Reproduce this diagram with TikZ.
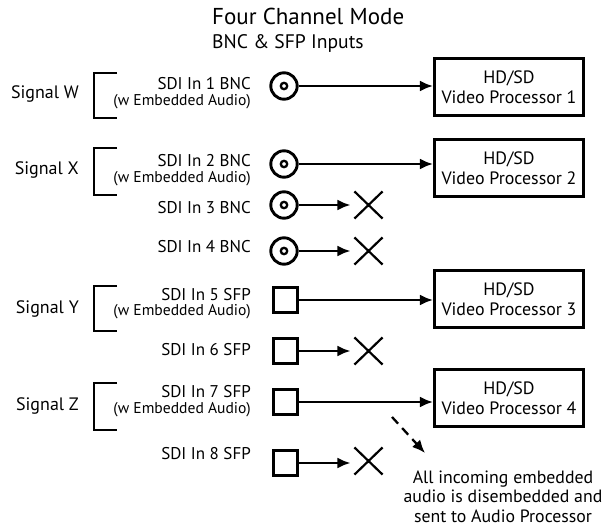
\documentclass[tikz,border=0pt]{standalone}
\usepackage{fontspec}
\setmainfont{PT Sans}
\usetikzlibrary{arrows.meta,shapes.misc}
\tikzset{
	sig/.style={line width=2.3pt, -{Latex[length=13pt,width=11pt]}},
	bnc/.style={circle, draw, line width=2.9pt, minimum size=26.4pt, inner sep=0pt,
		path picture={\draw[line width=2.3pt] (path picture bounding box.center) circle (3.2pt);}},
	sfp/.style={rectangle, draw, line width=2.9pt, minimum size=24.5pt, inner sep=0pt},
	drop/.style={cross out, draw, line width=2.2pt, minimum width=26pt, minimum height=25pt, inner sep=0pt},
	proc/.style={rectangle, draw, line width=3.1pt, minimum width=149pt, minimum height=57pt,
		align=center, inner sep=0pt, font=\fontsize{17.9}{20.5}\selectfont},
	inlbl/.style={anchor=base east, inner sep=0pt, font=\fontsize{17}{17}\selectfont},
	sublbl/.style={anchor=base east, inner sep=0pt, font=\fontsize{15.6}{15.6}\selectfont},
	sigl/.style={anchor=base east, inner sep=0pt, font=\fontsize{18}{18}\selectfont},
	brk/.style={line width=2.6pt},
}

\begin{document}
\begin{tikzpicture}[x=1pt, y=-1pt]
	%%%%% START %%%%%
	\useasboundingbox (0,0) rectangle (612,529);
	
	\node[anchor=base west, inner sep=0pt, font=\fontsize{23}{23}\selectfont] (title) at (212,25) {Four Channel Mode};
	\node[anchor=base west, inner sep=0pt, font=\fontsize{19.6}{19.6}\selectfont] (subtitle) at (212,49) {BNC \& SFP Inputs};
	
	% signal groups
	\node[sigl] (sw) at (79,99) {Signal W};
	\draw[brk] (117,73) -- (94,73) -- (94,118) -- (117,118);
	\node[sigl] (sx) at (79,175) {Signal X};
	\draw[brk] (117,148) -- (94,148) -- (94,195) -- (117,195);
	\node[sigl] (sy) at (79,313) {Signal Y};
	\draw[brk] (117,286) -- (94,286) -- (94,331) -- (117,331);
	\node[sigl] (sz) at (79,410) {Signal Z};
	\draw[brk] (117,383) -- (94,383) -- (94,430) -- (117,430);
	
	% input labels
	\node[inlbl] (l1) at (251,89.5) {SDI In 1 BNC};
	\node[sublbl] (l1a) at (251,105.5) {(w Embedded Audio)};
	\node[inlbl] (l2) at (251,166.5) {SDI In 2 BNC};
	\node[sublbl] (l2a) at (251,182.5) {(w Embedded Audio)};
	\node[inlbl] (l3) at (251,213.5) {SDI In 3 BNC};
	\node[inlbl] (l4) at (251,252.5) {SDI In 4 BNC};
	\node[inlbl] (l5) at (251,300.5) {SDI In 5 SFP};
	\node[sublbl] (l5a) at (251,315.5) {(w Embedded Audio)};
	\node[inlbl] (l6) at (251,355.5) {SDI In 6 SFP};
	\node[inlbl] (l7) at (251,397.5) {SDI In 7 SFP};
	\node[sublbl] (l7a) at (251,413.5) {(w Embedded Audio)};
	\node[inlbl] (l8) at (251,459.5) {SDI In 8 SFP};
	
	% connectors
	\node[bnc] (in1) at (284,86) {};
	\node[bnc] (in2) at (284,164) {};
	\node[bnc] (in3) at (284,205) {};
	\node[bnc] (in4) at (284,251) {};
	\node[sfp] (in5) at (285.5,300) {};
	\node[sfp] (in6) at (285.5,351) {};
	\node[sfp] (in7) at (285.5,402) {};
	\node[sfp] (in8) at (285.5,463) {};
	
	% processors
	\node[proc] (vp1) at (509,87) {HD/SD\\Video Processor 1};
	\node[proc] (vp2) at (509,168) {HD/SD\\Video Processor 2};
	\node[proc] (vp3) at (509,299) {HD/SD\\Video Processor 3};
	\node[proc] (vp4) at (509,398) {HD/SD\\Video Processor 4};
	
	% unused inputs
	\node[drop] (x3) at (368.5,205) {};
	\node[drop] (x4) at (368.5,251) {};
	\node[drop] (x6) at (368.5,351) {};
	\node[drop] (x8) at (368.5,461) {};
	
	\draw[sig] (in1) -- (in1 -| vp1.west);
	\draw[sig] (in2) -- (in2 -| vp2.west);
	\draw[sig] (in5) -- (in5 -| vp3.west);
	\draw[sig] (in7) -- (in7 -| vp4.west);
	\draw[sig, shorten >=4pt] (in3) -- (in3 -| x3.west);
	\draw[sig, shorten >=4pt] (in4) -- (in4 -| x4.west);
	\draw[sig, shorten >=4pt] (in6) -- (in6 -| x6.west);
	\draw[sig, shorten >=4pt] (in8) -- (in8 -| x8.west);
	
	% embedded audio
	\node[anchor=north, align=center, inner sep=0pt, font=\fontsize{17.8}{19.5}\selectfont] (note) at (503,470.5)
		{All incoming embedded\\audio is disembedded and\\sent to Audio Processor};
	\coordinate (tap) at (392,417);
	\coordinate (aud) at (425,453);
	\draw[sig, dash pattern=on 9pt off 6pt] (tap) -- (aud);
	%%%%% END %%%%%
\end{tikzpicture}
\end{document}
